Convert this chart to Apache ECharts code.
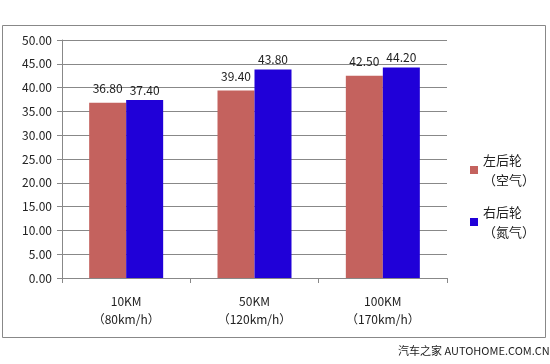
<!DOCTYPE html>
<html><head><meta charset="utf-8">
<script src="https://cdn.jsdelivr.net/npm/echarts@6/dist/echarts.min.js"></script>
<style>html,body{margin:0;padding:0;background:#fff}#c{width:550px;height:364px}</style>
</head><body><div id="c"></div>
<script>
var categories = ['10KM\n（80km/h）', '50KM\n（120km/h）', '100KM\n（170km/h）'];
var seriesNames = ['左后轮\n（空气）', '右后轮\n（氮气）'];
var leftRear = [36.80, 39.40, 42.50];
var rightRear = [37.40, 43.80, 44.20];
var yTicks = [0, 5, 10, 15, 20, 25, 30, 35, 40, 45, 50];
var chart = echarts.init(document.getElementById('c'), null, {renderer: 'canvas'});
var font = '"Noto Sans CJK SC", "Noto Sans", sans-serif';
chart.setOption({
  animation: false,
  backgroundColor: '#fff',
  grid: {left: 62, right: 103, top: 40, bottom: 86, containLabel: false},
  legend: {
    orient: 'vertical', left: 465, top: 145, itemWidth: 8, itemHeight: 8, itemGap: 12,
    icon: 'rect',
    textStyle: {fontFamily: font, fontSize: 13, color: '#222', lineHeight: 20},
    data: seriesNames
  },
  xAxis: {
    type: 'category', data: categories,
    axisLine: {lineStyle: {color: '#888'}},
    axisTick: {show: true, length: 5, lineStyle: {color: '#888'}},
    axisLabel: {fontFamily: font, fontSize: 12, color: '#222', margin: 14, lineHeight: 18}
  },
  yAxis: {
    type: 'value', min: yTicks[0], max: yTicks[yTicks.length - 1], interval: 5,
    axisLine: {show: true, lineStyle: {color: '#888'}},
    axisTick: {show: true, length: 5, lineStyle: {color: '#888'}},
    axisLabel: {fontFamily: font, fontSize: 12, color: '#222', margin: 10, formatter: function(v){return v.toFixed(2);}},
    splitLine: {lineStyle: {color: '#888'}}
  },
  series: [
    {name: seriesNames[0], type: 'bar', data: leftRear, barWidth: 37, barGap: '0%',
     itemStyle: {color: '#C4625E'},
     label: {show: true, position: 'top', distance: 8, fontFamily: font, fontSize: 12, color: '#222', formatter: function(p){return p.value.toFixed(2);}}},
    {name: seriesNames[1], type: 'bar', data: rightRear, barWidth: 37,
     itemStyle: {color: '#2000D8'},
     label: {show: true, position: 'top', distance: 4, fontFamily: font, fontSize: 12, color: '#222', formatter: function(p){return p.value.toFixed(2);}}}
  ],
  graphic: [
    {type: 'rect', shape: {x: 2.5, y: 25.5, width: 543, height: 312}, style: {fill: 'none', stroke: '#888', lineWidth: 1}, silent: true, z: -1},
    {type: 'text', left: 398, top: 345, style: {text: '汽车之家 AUTOHOME.COM.CN', fontFamily: '"Noto Sans CJK SC", "DejaVu Sans Mono", monospace', fontSize: 11, fill: '#222'}}
  ]
});
</script></body></html>
